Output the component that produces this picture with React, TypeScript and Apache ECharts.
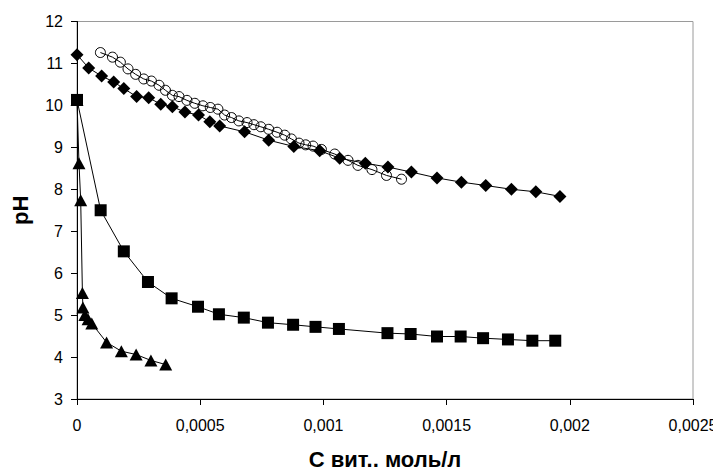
import React, { useEffect, useRef } from "react";
import * as echarts from "echarts";

const xTicks = [0, 0.0005, 0.001, 0.0015, 0.002, 0.0025];
const yTicks = [3, 4, 5, 6, 7, 8, 9, 10, 11, 12];

const diamondX = [0, 0.0000475, 0.0001, 0.000149, 0.00019, 0.000242, 0.000291, 0.00034, 0.000387, 0.000438, 0.000493, 0.000539, 0.000579, 0.00068, 0.000778, 0.00088, 0.000985, 0.001066, 0.00117, 0.001262, 0.001357, 0.001461, 0.00156, 0.001659, 0.001763, 0.001862, 0.00196];
const diamondY = [11.21, 10.89, 10.7, 10.56, 10.4, 10.21, 10.18, 10.03, 9.97, 9.84, 9.77, 9.61, 9.51, 9.37, 9.17, 9.02, 8.92, 8.74, 8.62, 8.53, 8.41, 8.27, 8.17, 8.09, 8.0, 7.94, 7.83];

const circleX = [0.000095, 0.000144, 0.000176, 0.000207, 0.000238, 0.000271, 0.000302, 0.000333, 0.000359, 0.000387, 0.000414, 0.000446, 0.000478, 0.000511, 0.000541, 0.000572, 0.000599, 0.000627, 0.000657, 0.00069, 0.000718, 0.000746, 0.000778, 0.000812, 0.000843, 0.00087, 0.000901, 0.000928, 0.000958, 0.000992, 0.001046, 0.0011, 0.00114, 0.001197, 0.001256, 0.001317];
const circleY = [11.26, 11.15, 11.03, 10.87, 10.74, 10.63, 10.58, 10.48, 10.36, 10.24, 10.21, 10.12, 10.05, 9.99, 9.95, 9.91, 9.77, 9.71, 9.63, 9.59, 9.54, 9.49, 9.43, 9.36, 9.29, 9.2, 9.1, 9.06, 9.03, 8.95, 8.84, 8.69, 8.57, 8.47, 8.33, 8.24];

const squareX = [0, 0.000096, 0.00019, 0.000288, 0.000384, 0.000491, 0.000576, 0.000677, 0.000775, 0.000877, 0.000968, 0.001063, 0.00126, 0.001354, 0.001461, 0.001557, 0.001648, 0.001749, 0.001848, 0.001941];
const squareY = [10.13, 7.5, 6.52, 5.79, 5.4, 5.2, 5.02, 4.94, 4.82, 4.77, 4.72, 4.67, 4.57, 4.55, 4.49, 4.49, 4.45, 4.42, 4.39, 4.39];

const triangleX = [0, 0.000008, 0.000015, 0.000022, 0.000024, 0.000032, 0.000045, 0.00006, 0.00012, 0.00018, 0.00024, 0.0003, 0.00036];
const triangleY = [10.13, 8.62, 7.74, 5.53, 5.18, 5.0, 4.9, 4.8, 4.35, 4.14, 4.06, 3.92, 3.82];

const xName = "С вит., моль/л";
const yName = "pH";

const zip = (xs: number[], ys: number[]) => xs.map((x, i) => [x, ys[i]]);

const FONT = "'Liberation Sans', Arial, sans-serif";

export default function App() {
  const ref = useRef<HTMLDivElement>(null);
  useEffect(() => {
    if (!ref.current) return;
    const chart = echarts.init(ref.current, undefined, { renderer: "svg" });
    const base = {
      type: "line" as const,
      lineStyle: { color: "#000", width: 1 },
      emphasis: { disabled: true },
    };
    chart.setOption({
      animation: false,
      textStyle: { fontFamily: FONT },
      grid: {
        left: 77,
        top: 21.5,
        right: 28,
        bottom: 72.7,
        show: true,
        borderColor: "#9a9a9a",
        borderWidth: 1,
      },
      xAxis: {
        type: "value",
        min: xTicks[0],
        max: xTicks[xTicks.length - 1],
        interval: 0.0005,
        name: xName,
        nameLocation: "middle",
        nameGap: 49,
        nameTextStyle: { fontSize: 22, fontWeight: "bold", color: "#000", fontFamily: FONT },
        axisLine: { show: true, lineStyle: { color: "#000", width: 1 } },
        axisTick: { show: true, length: 6, lineStyle: { color: "#000" } },
        axisLabel: {
          fontSize: 16,
          color: "#000",
          margin: 18,
          fontFamily: FONT,
          formatter: (v: number) => String(+v.toFixed(4)).replace(".", ","),
        },
        splitLine: { show: false },
      },
      yAxis: {
        type: "value",
        min: yTicks[0],
        max: yTicks[yTicks.length - 1],
        interval: 1,
        name: yName,
        nameLocation: "middle",
        nameGap: 46,
        nameTextStyle: { fontSize: 22, fontWeight: "bold", color: "#000", fontFamily: FONT },
        axisLine: { show: true, lineStyle: { color: "#000", width: 1 } },
        axisTick: { show: true, length: 6, lineStyle: { color: "#000" } },
        axisLabel: { fontSize: 16, color: "#000", margin: 14, fontFamily: FONT },
        splitLine: { show: false },
      },
      series: [
        {
          ...base,
          data: zip(squareX, squareY),
          symbol: "rect",
          symbolSize: 12,
          itemStyle: { color: "#000" },
        },
        {
          ...base,
          data: zip(triangleX, triangleY),
          symbol: "triangle",
          symbolSize: [13, 12],
          itemStyle: { color: "#000" },
        },
        {
          ...base,
          data: zip(diamondX, diamondY),
          symbol: "diamond",
          symbolSize: 13,
          itemStyle: { color: "#000" },
        },
        {
          ...base,
          data: zip(circleX, circleY),
          symbol: "circle",
          symbolSize: 10,
          itemStyle: { color: "none", borderColor: "#000", borderWidth: 1 },
        },
      ],
    });
    return () => chart.dispose();
  }, []);
  return <div ref={ref} style={{ width: 721, height: 475, margin: -8 }} />;
}
